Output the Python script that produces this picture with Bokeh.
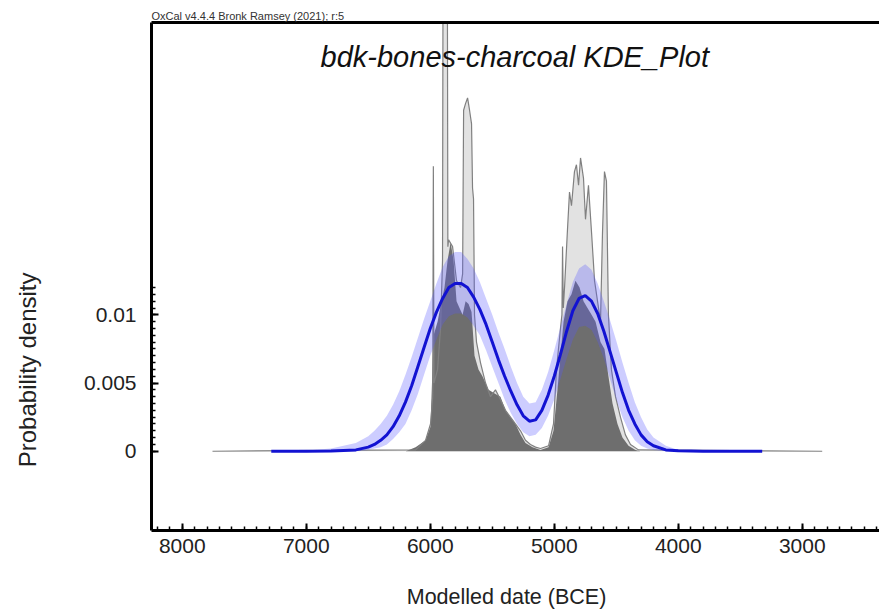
from bokeh.plotting import figure
from bokeh.models import Range1d, FixedTicker, LinearAxis, Label
from bokeh.embed import file_html
from bokeh.resources import INLINE

# ---- data ----
# summed distribution (light grey), date BCE / probability density
sum_dates = [7756, 6118, 6038, 5998, 5980, 5975, 5970, 5941, 5917, 5901, 5897, 5862, 5858,
             5852, 5820, 5788, 5756, 5739, 5731, 5715, 5699, 5683, 5667, 5659, 5651, 5643,
             5627, 5595, 5554, 5514, 5474, 5434, 5393, 5353, 5313, 5272, 5232, 5192, 5151,
             5111, 5046, 5006, 4982, 4950, 4938, 4933, 4927, 4917, 4893, 4877, 4861, 4837,
             4821, 4804, 4788, 4764, 4748, 4724, 4699, 4675, 4651, 4627, 4611, 4595, 4579,
             4563, 4539, 4506, 4466, 4426, 4385, 4321, 2839]
sum_vals = [0, 0.0001, 0.0008, 0.0020, 0.0040, 0.0209, 0.0050, 0.0060, 0.0090, 0.0140, 0.0350,
            0.0350, 0.0150, 0.0155, 0.0150, 0.0125, 0.0120, 0.0130, 0.0250, 0.0255, 0.0259,
            0.0250, 0.0240, 0.0193, 0.0185, 0.0100, 0.0080, 0.0065, 0.0050, 0.0040, 0.0045,
            0.0038, 0.0030, 0.0025, 0.0020, 0.0015, 0.0008, 0.0005, 0.0003, 0.0002, 0.0004,
            0.0020, 0.0060, 0.0090, 0.0100, 0.0150, 0.0105, 0.0120, 0.0163, 0.0190, 0.0180,
            0.0205, 0.0210, 0.0195, 0.0215, 0.0200, 0.0170, 0.0195, 0.0160, 0.0125, 0.0110,
            0.0095, 0.0160, 0.0205, 0.0198, 0.0100, 0.0060, 0.0040, 0.0025, 0.0012, 0.0005,
            0.0001, 0]

# KDE distribution (dark grey)
kde_dates = [6198, 6118, 6038, 5998, 5973, 5941, 5909, 5885, 5860, 5836, 5812, 5788, 5764,
             5739, 5715, 5691, 5667, 5643, 5611, 5579, 5530, 5474, 5434, 5393, 5353, 5313,
             5272, 5232, 5175, 5111, 5046, 5006, 4974, 4950, 4925, 4893, 4861, 4829, 4796,
             4764, 4732, 4699, 4667, 4627, 4595, 4563, 4530, 4490, 4450, 4401, 4345, 4305]
kde_vals = [0, 0.0003, 0.0008, 0.0018, 0.0085, 0.0095, 0.0110, 0.0120, 0.0140, 0.0153,
            0.0140, 0.0110, 0.0105, 0.0100, 0.0110, 0.0108, 0.0102, 0.0070, 0.0060, 0.0055,
            0.0045, 0.0042, 0.0040, 0.0030, 0.0025, 0.0020, 0.0012, 0.0006, 0.0003, 0.0001,
            0.0003, 0.0015, 0.0045, 0.0070, 0.0095, 0.0110, 0.0115, 0.0125, 0.0120, 0.0110,
            0.0105, 0.0100, 0.0095, 0.0080, 0.0075, 0.0055, 0.0035, 0.0020, 0.0010, 0.0004,
            0.0001, 0]

# KDE mean (blue line) and +-1 sigma band
mean_dates = [7282, 7000, 6800, 6600,
              6500, 6450, 6400, 6350, 6300, 6250, 6200, 6150, 6100, 6050, 6000, 5950, 5900,
              5850, 5800, 5750, 5700, 5650, 5600, 5550, 5500, 5450, 5400, 5350, 5300, 5250,
              5200, 5150, 5100, 5050, 5000, 4950, 4900, 4850, 4800, 4750, 4700, 4650, 4600,
              4550, 4500, 4450, 4400, 4350, 4300, 4250, 4200,
              4100, 4000, 3800, 3323]
mean_vals = [0, 0.000005, 0.00002, 0.0001,
             0.0003, 0.0005, 0.0008, 0.0012, 0.0018, 0.0026, 0.0036, 0.0048, 0.0062, 0.0076,
             0.0090, 0.0102, 0.0112, 0.0120, 0.0123, 0.0123, 0.0120, 0.0113, 0.0104, 0.0093,
             0.0080, 0.0067, 0.0055, 0.0044, 0.0034, 0.0026, 0.0022, 0.0023, 0.0030, 0.0041,
             0.0055, 0.0071, 0.0088, 0.0103, 0.0112, 0.0114, 0.0110, 0.0101, 0.0088, 0.0073,
             0.0058, 0.0043, 0.0030, 0.0020, 0.0012, 0.0007, 0.0004,
             0.0001, 0.00003, 0.000005, 0]
band_hi = [0, 0.00005, 0.0002, 0.0006,
           0.0011, 0.0015, 0.0020, 0.0026, 0.0034, 0.0044, 0.0056, 0.0069, 0.0083, 0.0097,
           0.0110, 0.0123, 0.0135, 0.0143, 0.0146, 0.0146, 0.0141, 0.0134, 0.0124, 0.0112,
           0.0100, 0.0087, 0.0075, 0.0062, 0.0050, 0.0040, 0.0035, 0.0036, 0.0045, 0.0058,
           0.0074, 0.0091, 0.0108, 0.0124, 0.0134, 0.0137, 0.0133, 0.0123, 0.0110, 0.0096,
           0.0081, 0.0065, 0.0050, 0.0036, 0.0025, 0.0016, 0.0010,
           0.0004, 0.0001, 0.00002, 0]
band_lo = [0, 0, 0, 0,
           0.0001, 0.0002, 0.0003, 0.0005, 0.0009, 0.0014, 0.0020, 0.0030, 0.0042, 0.0056,
           0.0070, 0.0082, 0.0093, 0.0099, 0.0101, 0.0101, 0.0098, 0.0092, 0.0085, 0.0074,
           0.0062, 0.0050, 0.0038, 0.0028, 0.0020, 0.0014, 0.0011, 0.0012, 0.0017, 0.0026,
           0.0038, 0.0053, 0.0068, 0.0082, 0.0091, 0.0092, 0.0089, 0.0080, 0.0068, 0.0053,
           0.0038, 0.0025, 0.0015, 0.0008, 0.0004, 0.0002, 0.0001,
           0, 0, 0, 0]

x_ticks = [8000, 7000, 6000, 5000, 4000, 3000]
x_tick_labels = ["8000", "7000", "6000", "5000", "4000", "3000"]
y_ticks = [0, 0.005, 0.01]
y_tick_labels = ["0", "0.005", "0.01"]

title_text = "bdk-bones-charcoal KDE_Plot"
header_text = "OxCal v4.4.4 Bronk Ramsey (2021); r:5"
x_label = "Modelled date (BCE)"
y_label = "Probability density"

FONT = "Liberation Sans"
NBSP = "\u00a0"

p = figure(width=879, height=611, x_range=Range1d(8248, 2377),
           y_range=Range1d(-0.00581, 0.03143), output_backend="svg",
           toolbar_location=None, min_border_left=151, min_border_right=0,
           min_border_top=22, min_border_bottom=81)
p.outline_line_color = None
p.background_fill_color = "white"
p.border_fill_color = "white"
p.grid.visible = False

# light grey summed distribution
p.varea(x=sum_dates, y1=0, y2=sum_vals, fill_color="#e2e2e2")
# dark grey KDE distribution
p.varea(x=kde_dates, y1=0, y2=kde_vals, fill_color="#6e6e6e")
p.line(x=sum_dates, y=sum_vals, line_color="#808080", line_width=1.2)
# sigma band and mean
p.varea(x=mean_dates, y1=band_lo, y2=band_hi, fill_color="#5a5aff", fill_alpha=0.30)
p.line(x=mean_dates, y=mean_vals, line_color="#1212d2", line_width=3)

# axes
xa = p.xaxis[0]
xa.ticker = FixedTicker(ticks=x_ticks, minor_ticks=list(range(2400, 8300, 100)))
xa.major_label_overrides = dict(zip(x_ticks, x_tick_labels))
ya = p.yaxis[0]
ya.ticker = FixedTicker(ticks=y_ticks, minor_ticks=[k * 0.0005 for k in range(25)])
ya.major_label_overrides = dict(zip(y_ticks, y_tick_labels))
for ax in (xa, ya):
    ax.axis_line_width = 3
    ax.axis_line_color = "black"
    ax.major_tick_in = 7
    ax.major_tick_out = 0
    ax.minor_tick_in = 4
    ax.minor_tick_out = 0
    ax.major_tick_line_width = 2
    ax.minor_tick_line_width = 1.5
    ax.major_tick_line_color = "black"
    ax.minor_tick_line_color = "black"
    ax.major_label_text_font = FONT
    ax.major_label_text_font_size = "21px"
    ax.major_label_text_color = "#222222"
xa.major_label_standoff = 8
ya.major_label_standoff = 15

top = LinearAxis(ticker=FixedTicker(ticks=[]), major_tick_line_color=None,
                 minor_tick_line_color=None, major_label_text_font_size="0px",
                 axis_line_width=3, axis_line_color="black")
p.add_layout(top, "above")


def label_axis(text, size, standoff):
    return LinearAxis(ticker=FixedTicker(ticks=[]), axis_line_color=None,
                      major_tick_line_color=None, minor_tick_line_color=None,
                      major_tick_out=0, major_tick_in=0, minor_tick_out=0, minor_tick_in=0,
                      major_label_standoff=0, major_label_text_font_size="0px",
                      axis_label=text, axis_label_text_font=FONT,
                      axis_label_text_font_size=size, axis_label_text_font_style="normal",
                      axis_label_text_color="#222222", axis_label_standoff=standoff)


# axis titles; trailing no-break spaces move each label off the frame centre
# to where the reference places it
p.add_layout(label_axis(x_label + NBSP * 3, "21.5px", 29), "below")
p.add_layout(label_axis(y_label + NBSP * 28, "24px", 40), "left")

# header above the frame
p.title.text = header_text
p.title.text_font = FONT
p.title.text_font_size = "11px"
p.title.text_font_style = "normal"
p.title.text_color = "#333333"
p.title.align = "left"
p.title.standoff = 2

# plot title inside the frame
p.add_layout(Label(x=5318, y=0.0289, text=title_text, text_font=FONT, text_font_size="29px",
                   text_font_style="italic", text_align="center", text_baseline="alphabetic",
                   text_color="#111111"))

open("out.html", "w").write(file_html(p, INLINE))
